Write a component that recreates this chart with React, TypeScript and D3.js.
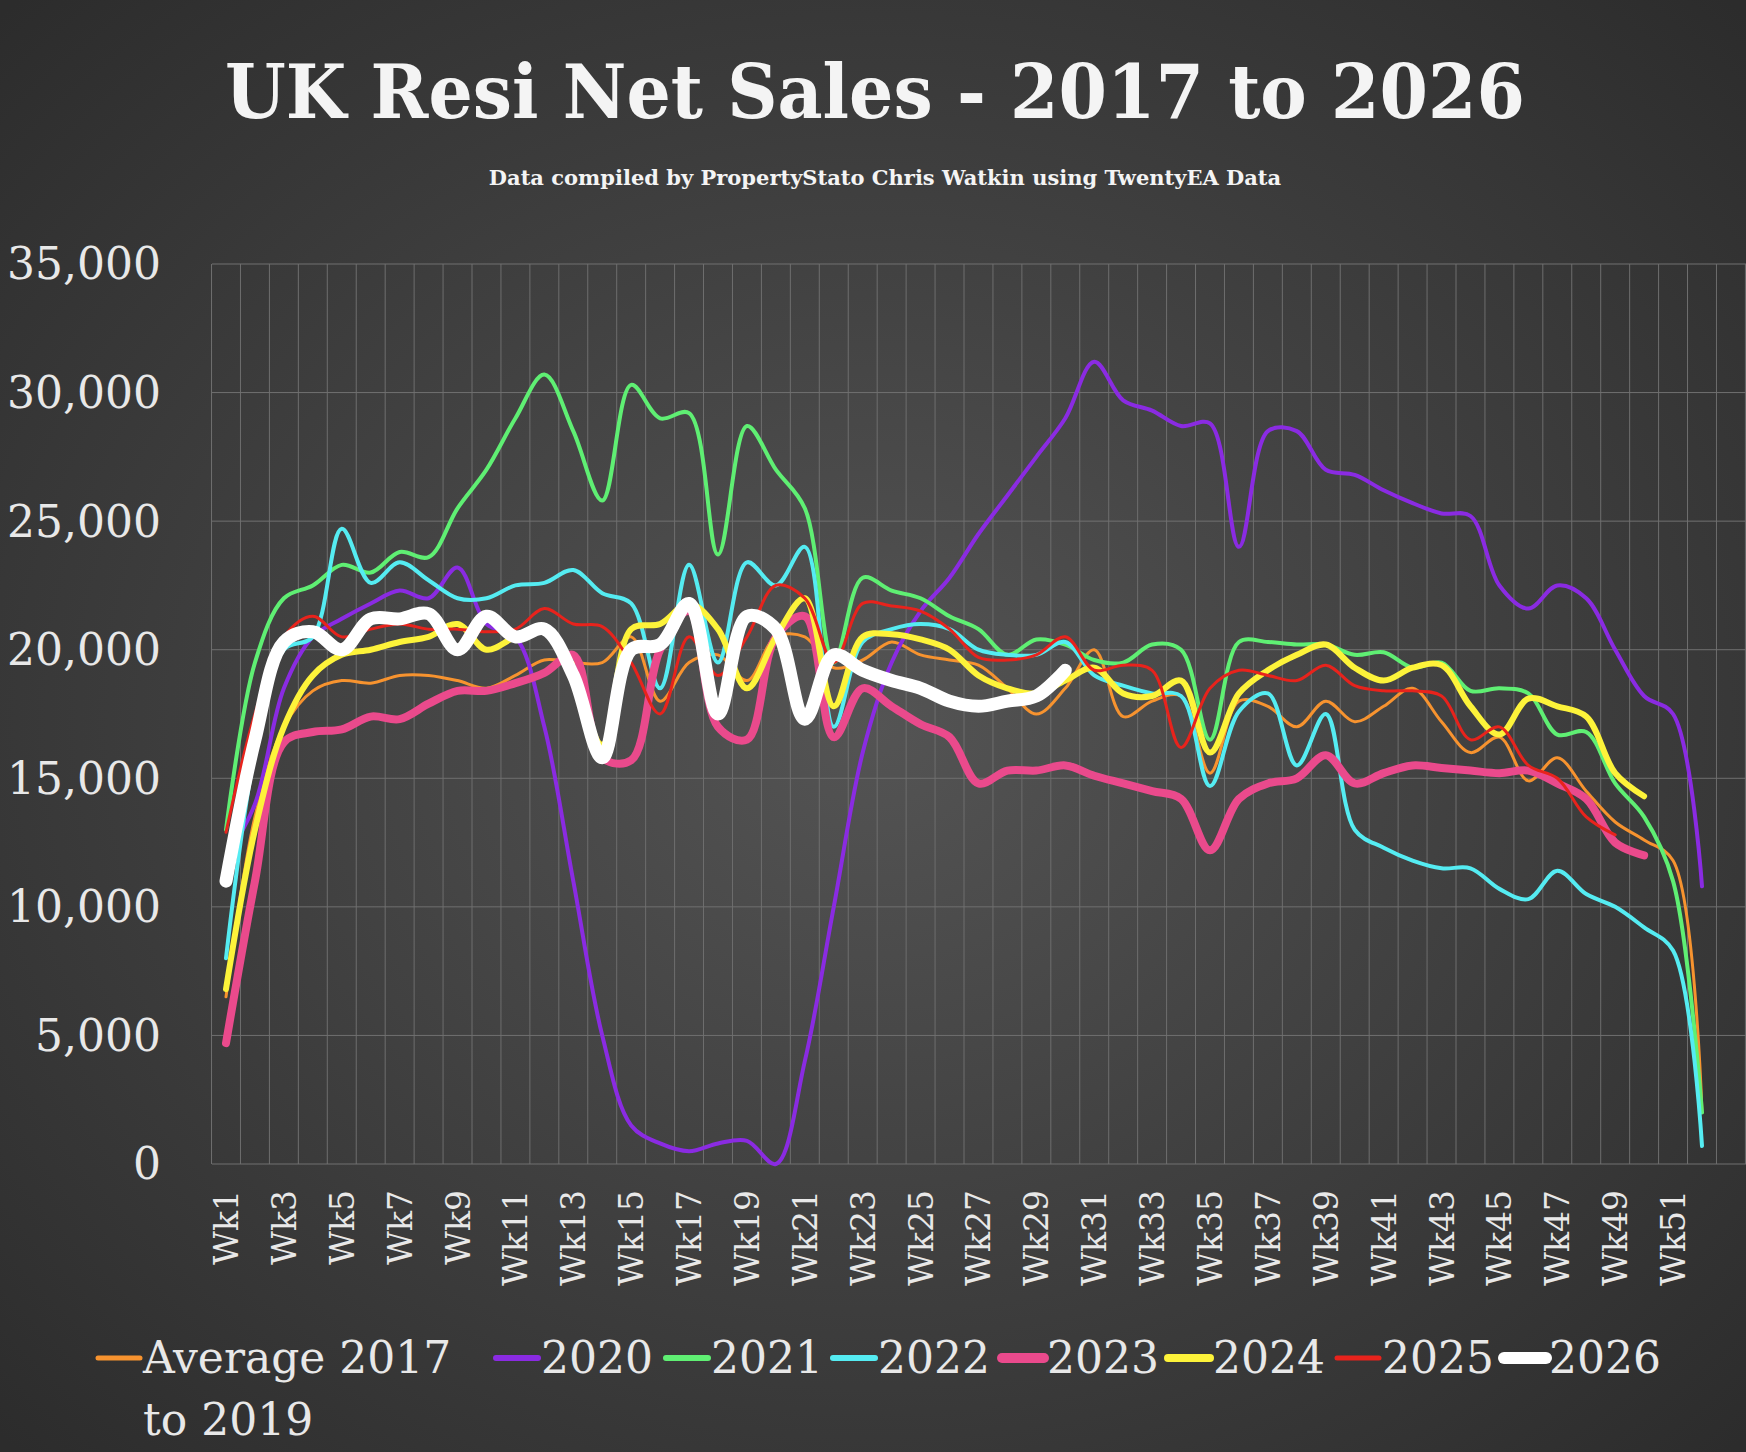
import { line as d3Line, curveCatmullRom, scaleLinear, scalePoint, range } from "d3"

const weeks = range(1, 53)
const yTicks = [0, 5000, 10000, 15000, 20000, 25000, 30000, 35000]

// values in thousands, read per week
const avg1719 = [6.5,13.5,17,18.4,18.8,18.7,19,19,18.8,18.5,19,19.6,19.5,19.5,20.5,18,19.5,19.8,18.8,20.5,20.5,19.3,19.6,20.3,19.8,19.6,19.4,18.5,17.5,18.5,20,17.4,18,18.2,15.2,18,17.8,17,18,17.2,17.8,18.5,17.2,16,16.6,14.9,15.8,14.5,13.3,12.6,11.8,2]
const s2020 = [11.9,14,18.5,20.5,21.2,21.8,22.3,22,23.2,21,20.5,17,11,5,1.5,0.8,0.5,0.8,0.9,0,4,10,16,19.5,21.5,22.8,24.5,26,27.5,29,31.2,29.7,29.3,28.7,28.8,24,28.5,28.5,27,26.8,26.2,25.7,25.3,25.2,22.5,21.6,22.5,22,20,18.2,17.5,10.8]
const s2021 = [13,19.5,22,22.5,23.3,23,23.8,23.6,25.5,27,29,30.7,28.5,25.8,30.3,29,29.2,23.7,28.7,27,25.5,19.5,22.8,22.3,22,21.3,20.8,19.8,20.4,20.2,19.6,19.5,20.2,20,16.5,20.3,20.3,20.2,20.2,19.8,19.9,19.3,19.5,18.4,18.5,18.3,16.7,16.8,14.8,13.5,11,2]
const s2022 = [8,16,20,20.5,24.7,22.6,23.4,22.7,22,22,22.5,22.6,23.1,22.2,21.8,18.5,23.3,19.5,23.4,22.5,24,17,20.3,20.8,21,20.8,20,19.8,19.8,20.3,19,18.6,18.3,18.2,14.7,17.6,18.3,15.5,17.5,13,12.3,11.8,11.5,11.5,10.7,10.3,11.4,10.5,10,9.2,8.3,0.7]
const s2023 = [4.7,11,16.4,16.8,16.9,17.4,17.3,17.9,18.4,18.4,18.7,19.1,19.8,15.8,15.7,20,21.5,17,16.5,20.5,21.3,16.6,18.5,17.8,17.1,16.6,14.8,15.3,15.3,15.5,15.1,14.8,14.5,14.2,12.2,14.2,14.8,15,15.9,14.8,15.2,15.5,15.4,15.3,15.2,15.3,14.8,14.2,12.5,12]
const s2024 = [6.8,13,17,19,19.8,20,20.3,20.5,21,20,20.5,20.8,19,16.3,20.8,21,21.8,20.8,18.5,20.5,22,17.8,20.5,20.6,20.4,20,19,18.5,18.3,18.8,19.3,18.3,18.2,18.8,16,18.3,19.2,19.8,20.2,19.3,18.8,19.3,19.4,17.8,16.7,18.1,17.8,17.4,15.2,14.3]
const s2025 = [12.9,17.5,20.5,21.3,20.5,20.8,21,20.8,20.8,20.7,20.8,21.6,21,20.9,19.5,17.5,20.5,19,20.5,22.5,22,19.5,21.8,21.7,21.5,20.8,19.7,19.6,19.8,20.5,19.2,19.4,19.2,16.2,18.5,19.2,19,18.8,19.4,18.6,18.4,18.4,18.2,16.5,17,15.5,15,13.5,12.8]
const s2026 = [11,16.5,20.3,20.7,20,21.2,21.2,21.4,20,21.3,20.5,20.8,19,15.8,20,20.2,21.8,17.5,21.3,20.8,17.3,19.8,19.2,18.8,18.5,18,17.8,18,18.2,19.2]

const series = [
  { label: "Average 2017", values: avg1719, color: "#f7932f", width: 3 },
  { label: "2020", values: s2020, color: "#8a2be2", width: 4 },
  { label: "2021", values: s2021, color: "#5fef73", width: 4 },
  { label: "2022", values: s2022, color: "#55ecf2", width: 4 },
  { label: "2023", values: s2023, color: "#ea4a8c", width: 8 },
  { label: "2024", values: s2024, color: "#fdf33a", width: 6 },
  { label: "2025", values: s2025, color: "#e8231c", width: 3 },
  { label: "2026", values: s2026, color: "#ffffff", width: 13 },
]
const legendX = [98, 496, 666, 833, 1002, 1168, 1337, 1504]

export default function App() {
  const W = 1746, H = 1452
  const x = scalePoint<number>().domain(weeks).range([226, 1702])
  const step = x.step()
  const y = scaleLinear().domain([0, 35000]).range([1164, 264])
  const lineGen = d3Line<number>()
    .x((_, i) => x(i + 1) ?? 0)
    .y((v) => y(v * 1000))
    .curve(curveCatmullRom.alpha(0.5))
  const font = "'DejaVu Serif', 'Liberation Serif', serif"

  return (
    <div style={{ position: "fixed", inset: 0, background: "#333" }}>
      <svg width={W} height={H} viewBox={`0 0 ${W} ${H}`} style={{ display: "block" }}>
        <defs>
          <radialGradient id="bg" cx="50%" cy="50%" r="70%">
            <stop offset="0%" stopColor="#545454" />
            <stop offset="100%" stopColor="#2c2c2c" />
          </radialGradient>
        </defs>
        <rect width={W} height={H} fill="url(#bg)" />
        <text x={875} y={118} textAnchor="middle" fill="#f4f4f4" fontFamily={font} fontWeight="bold" fontSize={74} textLength={1300} lengthAdjust="spacingAndGlyphs">UK  Resi Net Sales - 2017 to 2026</text>
        <text x={885} y={185} textAnchor="middle" fill="#f4f4f4" fontFamily={font} fontWeight="bold" fontSize={21}>Data compiled by PropertyStato Chris Watkin using TwentyEA Data</text>

        {range(0, 54).map((i) => {
          const gx = 226 - step / 2 + i * step
          return <line key={i} x1={gx} x2={gx} y1={264} y2={1164} stroke="#6e6e6e" strokeWidth={1} />
        })}
        {yTicks.map((t) => (
          <g key={t}>
            <line x1={212} x2={W} y1={y(t)} y2={y(t)} stroke="#707070" strokeWidth={1} />
            <text x={161} y={y(t)} dy="0.35em" textAnchor="end" fill="#e8e8e8" fontFamily={font} fontSize={44}>{t.toLocaleString("en-US")}</text>
          </g>
        ))}
        {weeks.filter((w) => w % 2 === 1).map((w) => (
          <text key={w} transform={`translate(${(x(w) ?? 0) + 12},1190) rotate(-90)`} textAnchor="end" fill="#e8e8e8" fontFamily={font} fontSize={33}>{`Wk${w}`}</text>
        ))}

        {series.map((s) => (
          <path key={s.label} d={lineGen(s.values) ?? ""} fill="none" stroke={s.color} strokeWidth={s.width} strokeLinejoin="round" strokeLinecap="round" />
        ))}

        {series.map((s, i) => (
          <g key={s.label}>
            <line x1={legendX[i]} x2={legendX[i] + 42} y1={1358} y2={1358} stroke={s.color} strokeWidth={Math.min(s.width + 2, 12)} strokeLinecap="round" />
            <text x={legendX[i] + 45} y={1373} fill="#e8e8e8" fontFamily={font} fontSize={44}>{s.label}</text>
          </g>
        ))}
        <text x={143} y={1435} fill="#e8e8e8" fontFamily={font} fontSize={44}>to 2019</text>
      </svg>
    </div>
  )
}
